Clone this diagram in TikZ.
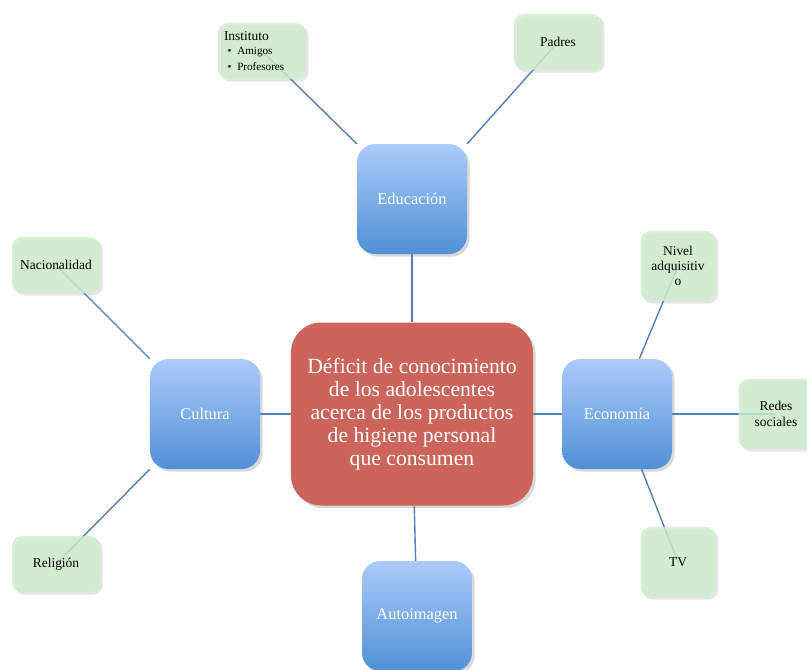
\documentclass[tikz,border=0pt]{standalone}
\usepackage{fontspec}
\setmainfont{Liberation Serif}
\usetikzlibrary{shadows,backgrounds}
\definecolor{linkblue}{RGB}{79,129,189}
\definecolor{topblue}{RGB}{172,203,250}
\definecolor{botblue}{RGB}{80,144,214}
\definecolor{corered}{RGB}{204,100,92}
\definecolor{leafgreen}{RGB}{206,238,204}

\begin{document}
\begin{tikzpicture}[x=0.03cm,y=-0.03cm,
  link/.style={draw=linkblue,line width=1.2pt},
  core/.style={rectangle,rounded corners=0.9cm,fill=corered,text=white,
    minimum width=7.26cm,minimum height=5.49cm,align=center,
    font=\fontsize{18.5}{19.6}\selectfont,drop shadow={opacity=0.3}},
  topic/.style={rectangle,rounded corners=0.55cm,top color=topblue,bottom color=botblue,
    text=white,minimum size=3.3cm,font=\fontsize{14}{16}\selectfont,drop shadow={opacity=0.3}},
  leaf/.style={rectangle,rounded corners=0.3cm,fill=leafgreen,fill opacity=0.8,text opacity=1,
    minimum width=2.64cm,minimum height=1.68cm,align=center,
    font=\fontsize{11.5}{13}\selectfont,drop shadow={opacity=0.2}},
  smallleaf/.style={leaf,minimum width=2.25cm,minimum height=2.1cm}]
\useasboundingbox (0,0) rectangle (807,670);
% centre and branches
\node[core] (core) at (412,414) {Déficit de conocimiento\\de los adolescentes\\acerca de los productos\\de higiene personal\\que consumen};
\node[topic] (edu) at (412,199) {Educación};
\node[topic] (cult) at (205,414) {Cultura};
\node[topic] (eco) at (617,414) {Economía};
\node[topic] (auto) at (417,616) {Autoimagen};
% leaves
\node[leaf,align=left,text width=2.28cm,inner xsep=0.18cm] (inst) at (262,51) {Instituto\\[1pt]
  {\fontsize{9.5}{11}\selectfont\hspace*{3pt}\textbullet\hspace{5pt}Amigos\\\hspace*{3pt}\textbullet\hspace{5pt}Profesores}};
\node[leaf] (pad) at (558,42) {Padres};
\node[leaf] (nac) at (56,265) {Nacionalidad};
\node[leaf] (rel) at (56,564) {Religión};
\node[smallleaf] (niv) at (678,266) {Nivel\\adquisitiv\\o};
\node[smallleaf] (red) at (776,414) {Redes\\sociales};
\node[smallleaf] (tv) at (678,562) {TV};
\begin{scope}[on background layer]
\draw[link] (edu) -- (core);
\draw[link] (cult) -- (core);
\draw[link] (core) -- (eco);
\draw[link] (core) -- (auto);
\draw[link] (inst.center) -- (edu.north west);
\draw[link] (pad.center) -- (edu.north east);
\draw[link] (nac.center) -- (cult.north west);
\draw[link] (rel.center) -- (cult.south west);
\draw[link] (niv.center) -- (eco.68);
\draw[link] (eco) -- (red.center);
\draw[link] (eco.-66) -- (tv.center);
\end{scope}
\end{tikzpicture}
\end{document}
